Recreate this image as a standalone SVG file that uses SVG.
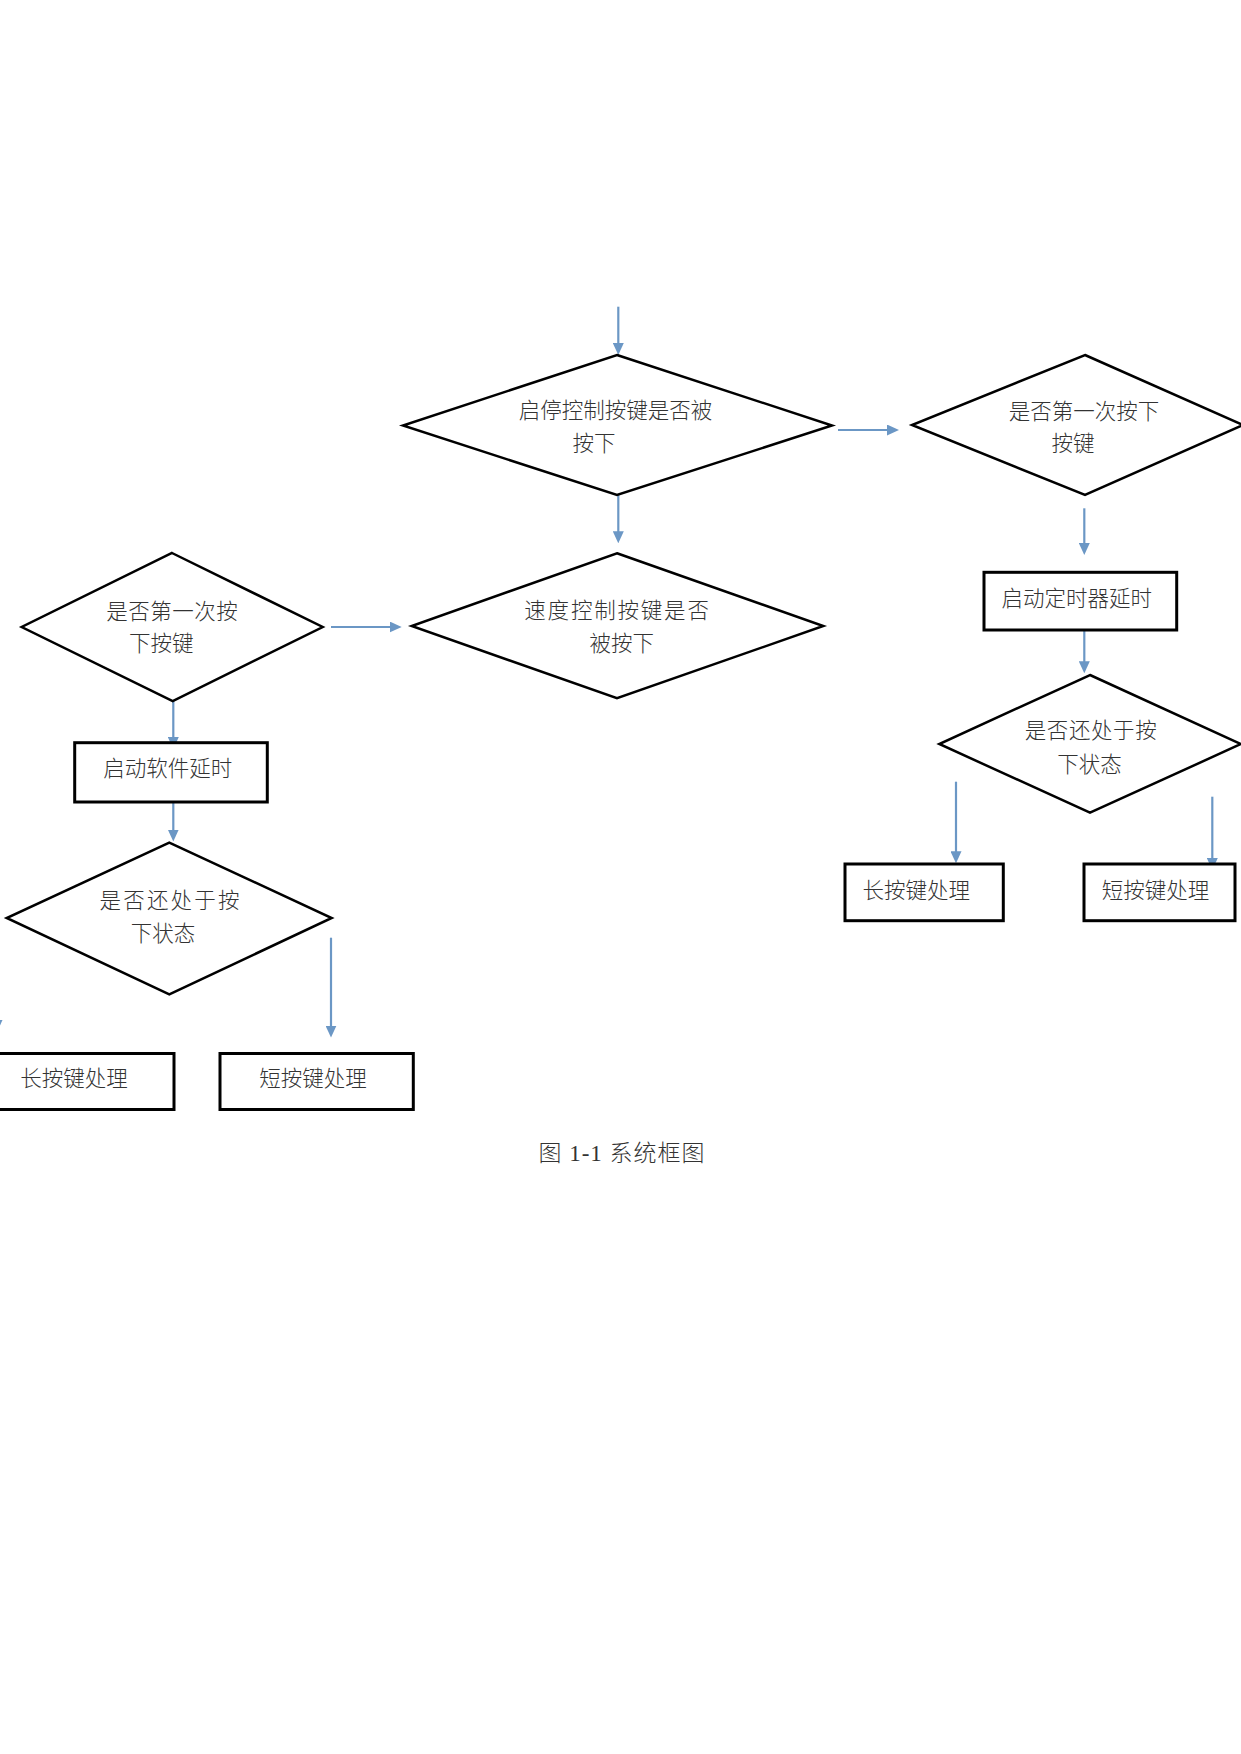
<svg xmlns="http://www.w3.org/2000/svg" width="1241" height="1754" viewBox="0 0 1241 1754">
<defs>
<style>
.dia{fill:#fff;stroke:#000;stroke-width:2.5;stroke-linejoin:miter}
.box{fill:#fff;stroke:#000;stroke-width:3}
.t{font-family:"Noto Sans CJK SC","Noto Sans CJK TC",sans-serif;font-size:21.5px;font-weight:300;fill:#333;text-anchor:middle}
.cap{font-family:"Liberation Serif","Noto Sans CJK SC",serif;font-size:23px;font-weight:300;fill:#333;text-anchor:middle;letter-spacing:1px}
.c{fill:none;stroke:#6b97c5;stroke-width:2.2;marker-end:url(#ah)}
</style>
<marker id="ah" markerUnits="userSpaceOnUse" markerWidth="12" markerHeight="11" refX="4" refY="5.5" orient="auto" viewBox="0 0 12 11">
<path d="M0,0 L12,5.5 L0,11 z" fill="#6b97c5"/>
</marker>
</defs>
<rect width="1241" height="1754" fill="#fff"/>

<g id="connectors">
<line class="c" x1="618.3" y1="306.7" x2="618.3" y2="347"/>
<line class="c" x1="838" y1="430" x2="891" y2="430"/>
<line class="c" x1="618.3" y1="495" x2="618.3" y2="535.3"/>
<line class="c" x1="331" y1="627" x2="393.7" y2="627"/>
<line class="c" x1="173.3" y1="701" x2="173.3" y2="741"/>
<line class="c" x1="173.3" y1="794.5" x2="173.3" y2="833.5"/>
<line class="c" x1="331" y1="937.7" x2="331" y2="1029.6"/>
<line class="c" x1="-3" y1="937" x2="-3" y2="1024"/>
<line class="c" x1="1084.3" y1="508.3" x2="1084.3" y2="547"/>
<line class="c" x1="1084.3" y1="630" x2="1084.3" y2="665.3"/>
<line class="c" x1="956" y1="781.7" x2="956" y2="855.3"/>
<line class="c" x1="1212.3" y1="796.7" x2="1212.3" y2="862"/>
</g>

<g id="node-startstop">
<polygon class="dia" points="617,355 832,425.5 617,495 403,425.5"/>
<text class="t" x="615.5" y="418">启停控制按键是否被</text>
<text class="t" x="594" y="451">按下</text>
</g>

<g id="node-first-right">
<polygon class="dia" points="1085,355 1243,425 1085,495 912,425"/>
<text class="t" x="1084" y="419">是否第一次按下</text>
<text class="t" x="1073" y="451">按键</text>
</g>

<g id="node-speed">
<polygon class="dia" points="617,553.3 823.3,626 617,698.3 411.7,626"/>
<text class="t" x="617.5" y="618" letter-spacing="1.8">速度控制按键是否</text>
<text class="t" x="621.7" y="651">被按下</text>
</g>

<g id="node-first-left">
<polygon class="dia" points="172,553 322.7,627 172.7,701 21.7,627"/>
<text class="t" x="172.3" y="619" letter-spacing="0.5">是否第一次按</text>
<text class="t" x="161.3" y="651">下按键</text>
</g>

<g id="node-softdelay">
<rect class="box" x="74.7" y="742.7" width="192.6" height="59.3"/>
<text class="t" x="167.7" y="775.5">启动软件延时</text>
</g>

<g id="node-still-left">
<polygon class="dia" points="169.3,842.6 331.7,918 169.3,994.3 6.7,918"/>
<text class="t" x="170.6" y="908" letter-spacing="2.2">是否还处于按</text>
<text class="t" x="163" y="941">下状态</text>
</g>

<g id="node-long-left">
<rect class="box" x="-19" y="1053.5" width="193" height="56"/>
<text class="t" x="74" y="1085.5">长按键处理</text>
</g>

<g id="node-short-left">
<rect class="box" x="220" y="1053.5" width="193.3" height="56"/>
<text class="t" x="313" y="1085.5">短按键处理</text>
</g>

<g id="node-timerdelay">
<rect class="box" x="984" y="572.3" width="192.7" height="57.7"/>
<text class="t" x="1076.7" y="606">启动定时器延时</text>
</g>

<g id="node-still-right">
<polygon class="dia" points="1090,675 1241,744 1090,812.7 939.3,744"/>
<text class="t" x="1091" y="738" letter-spacing="0.6">是否还处于按</text>
<text class="t" x="1089.5" y="772">下状态</text>
</g>

<g id="node-long-right">
<rect class="box" x="845" y="864" width="158.3" height="56.7"/>
<text class="t" x="916.3" y="897.5">长按键处理</text>
</g>

<g id="node-short-right">
<rect class="box" x="1084" y="864" width="151" height="56.7"/>
<text class="t" x="1155.5" y="897.5">短按键处理</text>
</g>

<text class="cap" x="622" y="1161">图 1-1 系统框图</text>
</svg>
